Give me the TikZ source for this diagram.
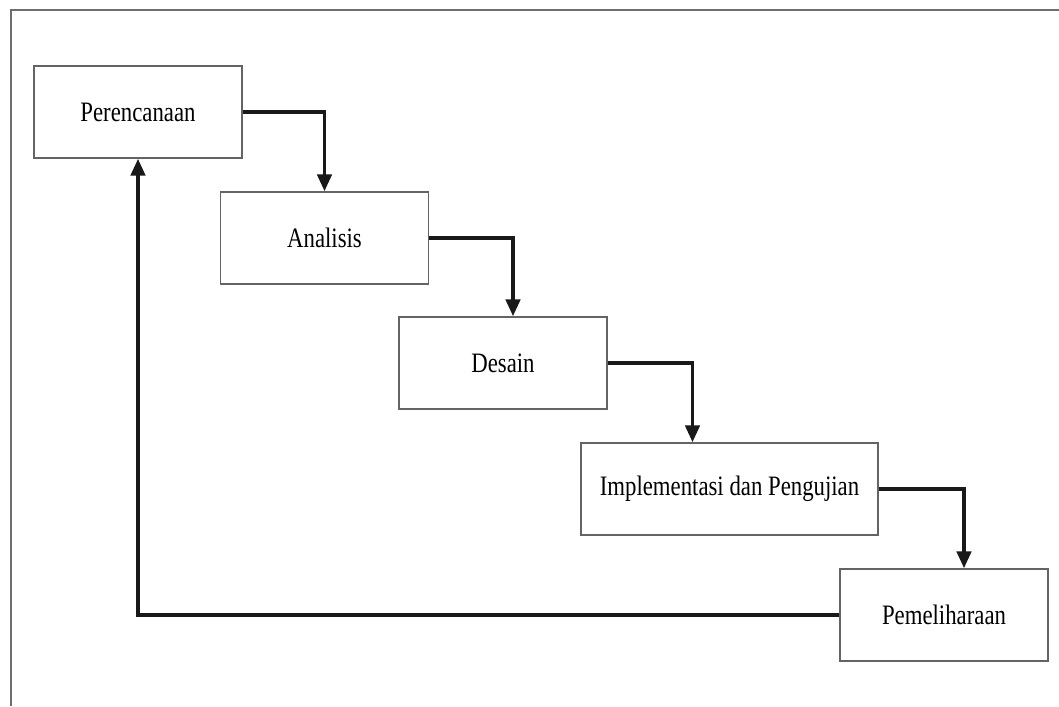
\documentclass[tikz,border=0pt]{standalone}
\usepackage{fontspec}
\setmainfont{Liberation Serif}
\newfontfamily\boxfont[FakeStretch=0.81]{Liberation Serif}
\usetikzlibrary{arrows.meta,positioning}
\definecolor{framegray}{RGB}{110,110,110}
\definecolor{boxgray}{RGB}{100,100,100}

\begin{document}
\begin{tikzpicture}[
    x=0.025cm, y=-0.025cm,
    stage/.style={rectangle, draw=boxgray, line width=0.9pt, fill=white, minimum width=5.2cm, minimum height=2.3cm, inner sep=0pt, font=\boxfont\fontsize{20}{23}\selectfont},
    arrow/.style={-{Triangle[width=10pt,length=12pt]}, line width=2.8pt, black!90}
]
% frame
\useasboundingbox (0,0) rectangle (1059,706);
\draw[framegray, line width=1.2pt] (11,706) -- (11,10) -- (1059,10);

% stages
\node[stage] (plan) at (138,112) {Perencanaan};
\node[stage] (analysis) at (324.5,238) {Analisis};
\node[stage] (design) at (503,363) {Desain};
\node[stage, minimum width=7.425cm] (impl) at (729.5,489) {Implementasi dan Pengujian};
\node[stage] (maint) at (944,615) {Pemeliharaan};

% arrows
\draw[arrow] (plan.east) -| (analysis.north);
\draw[arrow] (analysis.east) -| ([xshift=0.25cm]design.north);
\draw[arrow] (design.east) -| ([xshift=-0.925cm]impl.north);
\draw[arrow] (impl.east) -| ([xshift=0.5cm]maint.north);
\draw[arrow] (maint.west) -| (plan.south);

\end{tikzpicture}
\end{document}
